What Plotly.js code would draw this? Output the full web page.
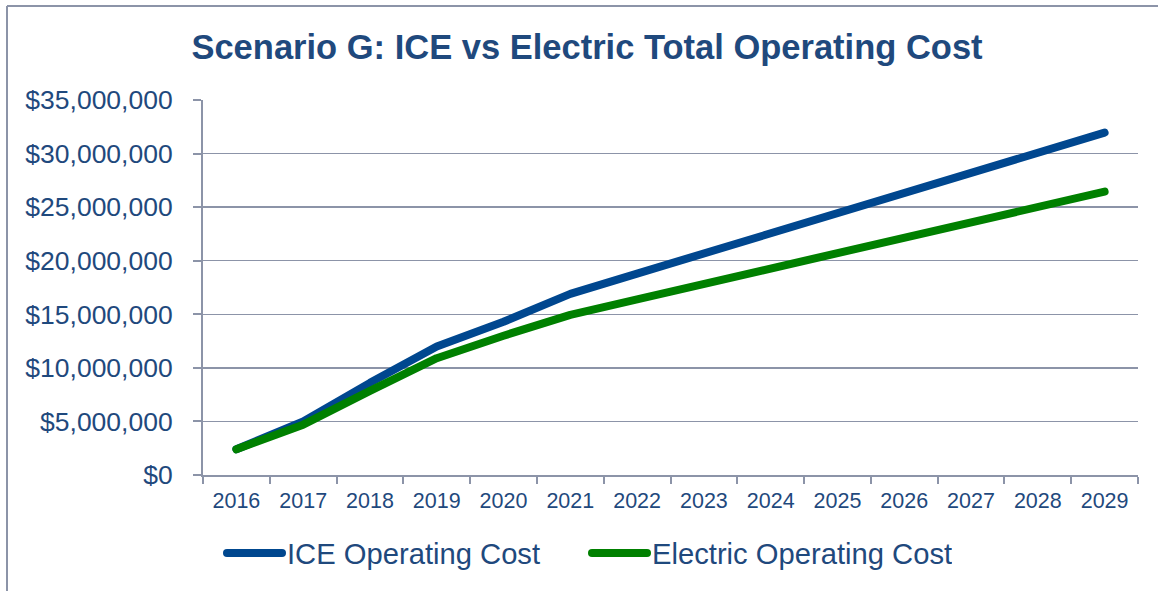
<!DOCTYPE html>
<html>
<head>
<meta charset="utf-8">
<script src="https://cdn.plot.ly/plotly-3.0.1.min.js"></script>
<style>
html,body{margin:0;padding:0;background:#fff;}
#chart{width:1158px;height:591px;}
.js-line{stroke-linecap:round;stroke-linejoin:round;}
</style>
</head>
<body>
<div id="chart"></div>
<script>
const years = ['2016','2017','2018','2019','2020','2021','2022','2023','2024','2025','2026','2027','2028','2029'];
const iceCost = [2400000, 5000000, 8600000, 12000000, 14300000, 16900000, 18800000, 20700000, 22550000, 24400000, 26300000, 28200000, 30050000, 31950000];
const electricCost = [2400000, 4700000, 7850000, 10900000, 13000000, 14950000, 16400000, 17850000, 19300000, 20750000, 22200000, 23600000, 25050000, 26450000];
const seriesNames = ['ICE Operating Cost', 'Electric Operating Cost'];
const titleText = 'Scenario G: ICE vs Electric Total Operating Cost';

const textColor = '#1F497D';
const gridColor = '#8C94A8';
const W = 1158, H = 591;
const m = {l: 203, r: 20, t: 100, b: 116};
const pw = W - m.l - m.r, ph = H - m.t - m.b;
const px = x => (x - m.l) / pw;
const py = y => 1 - (y - m.t) / ph;

const traces = [
  {x: years, y: iceCost, name: seriesNames[0], type: 'scatter', mode: 'lines',
   line: {color: '#00478F', width: 8}},
  {x: years, y: electricCost, name: seriesNames[1], type: 'scatter', mode: 'lines',
   line: {color: '#008000', width: 8}}
];

const layout = {
  width: W, height: H,
  margin: m,
  paper_bgcolor: '#ffffff', plot_bgcolor: '#ffffff',
  font: {family: 'Liberation Sans, Arial, sans-serif', color: textColor},
  showlegend: true,
  title: {text: '<b>' + titleText + '</b>', font: {size: 34.5, color: textColor},
          xref: 'container', yref: 'container', x: 587 / W, xanchor: 'center', y: 1 - 47 / H, yanchor: 'middle'},
  xaxis: {
    type: 'category', range: [-0.5, 13.5],
    showgrid: false, showline: true, linecolor: gridColor, linewidth: 2,
    ticks: 'outside', tickson: 'boundaries', ticklen: 7, tickwidth: 2, tickcolor: gridColor,
    tickfont: {size: 21.5, color: textColor}, ticklabelstandoff: 5, fixedrange: true
  },
  yaxis: {
    range: [0, 35000000], dtick: 5000000, tick0: 0,
    tickformat: '$,.0f',
    showgrid: true, gridcolor: gridColor, gridwidth: 1.5,
    showline: true, linecolor: gridColor, linewidth: 2,
    ticks: 'outside', ticklen: 8, tickwidth: 2, tickcolor: gridColor,
    tickfont: {size: 26.5, color: textColor}, ticklabelstandoff: 15,
    zeroline: false, fixedrange: true
  },
  legend: {
    orientation: 'h', x: 222 / W, xref: 'container', xanchor: 'left',
    y: 1 - 553 / H, yref: 'container', yanchor: 'middle',
    font: {size: 29.2, color: textColor}, itemwidth: 55, entrywidth: 295, traceorder: 'normal',
    bgcolor: 'rgba(0,0,0,0)'
  },
  shapes: [
    {type: 'line', xref: 'paper', yref: 'paper', x0: px(7), x1: px(7), y0: py(6), y1: py(600),
     line: {color: gridColor, width: 2}},
    {type: 'line', xref: 'paper', yref: 'paper', x0: px(7), x1: px(1165), y0: py(6), y1: py(6),
     line: {color: gridColor, width: 2}}
  ]
};

Plotly.newPlot('chart', traces, layout, {displayModeBar: false, staticPlot: true});
</script>
</body>
</html>
